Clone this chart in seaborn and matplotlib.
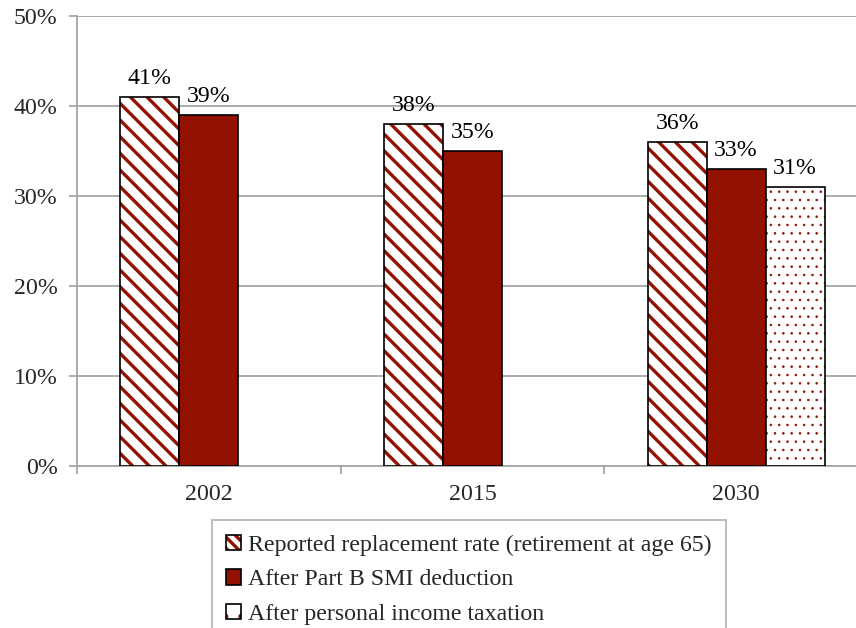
import pandas as pd
import numpy as np
import matplotlib
matplotlib.use("Agg")
import matplotlib.pyplot as plt
import matplotlib.colors as mcolors
from matplotlib.patches import Patch
import seaborn as sns

years = ["2002", "2015", "2030"]
series = [
    "Reported replacement rate (retirement at age 65)",
    "After Part B SMI deduction",
    "After personal income taxation",
]
reported = [41, 38, 36]
after_smi = [39, 35, 33]
after_tax = [np.nan, np.nan, 31]

dark_red = "#931100"
grid_gray = "#A6A6A6"
fs = 17.2

rows = []
for i, y in enumerate(years):
    rows.append((y, series[0], reported[i]))
    rows.append((y, series[1], after_smi[i]))
    rows.append((y, series[2], after_tax[i]))
df = pd.DataFrame(rows, columns=["year", "series", "value"])

sns.set_theme(style="white")
plt.rcParams["font.family"] = ["Liberation Serif", "DejaVu Serif"]
plt.rcParams["hatch.linewidth"] = 2.4

fig = plt.figure(figsize=(8.56, 6.28), dpi=100)
ax = fig.add_axes([77 / 856, 1 - 466 / 628, 791 / 856, 450 / 628])

sns.barplot(data=df, x="year", y="value", hue="series", hue_order=series,
            order=years, palette=["white", dark_red, "white"], width=0.671,
            edgecolor="black", linewidth=1.2, legend=False, ax=ax,
            errorbar=None, saturation=1)

hatches = ["\\\\", "", ".."]
for cont, h in zip(ax.containers, hatches):
    for p in cont:
        p.set_hatch(h)
        p.set_edgecolor("black")
        p._hatch_color = mcolors.to_rgba(dark_red)
        if h == "..":
            p._hatch_linewidth = 0.6
        p.set_zorder(3)
    labels = [("" if np.isnan(v.get_height()) else f"{v.get_height():.0f}%") for v in cont]
    ax.bar_label(cont, labels=labels, padding=6, fontsize=fs, color="black")

ax.set_ylim(0, 50)
ax.set_xlim(-0.5, 2.5)
ax.set_yticks(range(0, 51, 10))
ax.set_yticklabels([f"{t}%" for t in range(0, 51, 10)])
ax.yaxis.grid(True, color=grid_gray, linewidth=1.3, zorder=0)
ax.set_axisbelow(True)
ax.set_xlabel("")
ax.set_ylabel("")

ax.set_xticks([-0.5, 0.5, 1.5, 2.5], minor=True)
ax.tick_params(axis="x", which="major", length=0, pad=13, labelsize=fs)
ax.tick_params(axis="x", which="minor", length=6, width=1.3, color=grid_gray, direction="out", bottom=True)
ax.tick_params(axis="y", which="major", length=6, width=1.3, color=grid_gray, direction="out", left=True, pad=8, labelsize=fs)

for s in ["top", "right"]:
    ax.spines[s].set_visible(False)
for s in ["left", "bottom"]:
    ax.spines[s].set_color(grid_gray)
    ax.spines[s].set_linewidth(1.3)

handles = []
for lab, fc, h in zip(series, ["white", dark_red, "white"], ["\\\\\\", "", "."]):
    hp = Patch(facecolor=fc, edgecolor="black", hatch=h, linewidth=1.2, label=lab)
    hp._hatch_color = mcolors.to_rgba(dark_red)
    if h == ".":
        hp._hatch_linewidth = 0.8
    handles.append(hp)

leg = fig.legend(handles=handles, loc="upper left",
                 bbox_to_anchor=(212 / 856, 1 - 520 / 628),
                 frameon=True, fancybox=False, fontsize=fs,
                 handlelength=0.6, handleheight=0.6, handletextpad=0.3,
                 labelspacing=0.58, borderpad=0.6, borderaxespad=0)
leg.get_frame().set_edgecolor(grid_gray)
leg.get_frame().set_linewidth(1.3)

plt.savefig("out.png", dpi=100)
